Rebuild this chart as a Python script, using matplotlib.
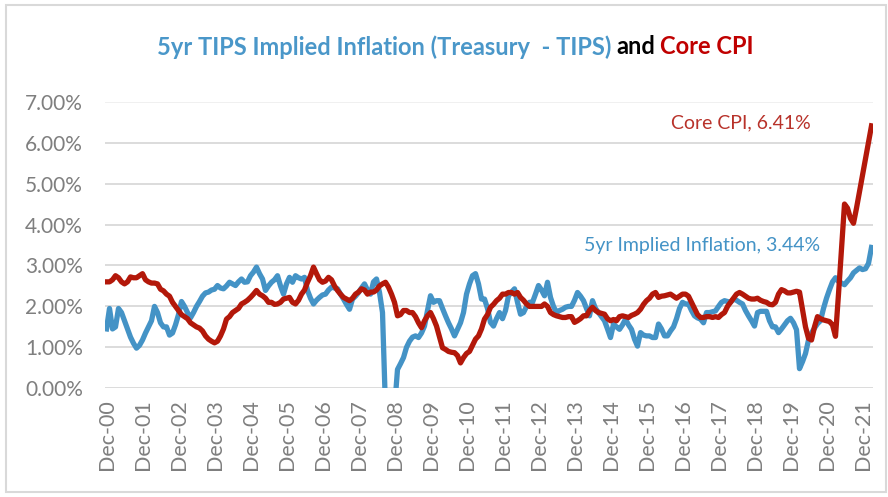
import numpy as np
import matplotlib.pyplot as plt
from matplotlib.patches import Rectangle

plt.rcParams['font.family'] = ['Lato', 'DejaVu Sans']

# monthly values in %, Dec-2000 .. Mar-2022
tips_implied = (
    [1.45]
    + [1.95, 1.45, 1.5, 1.95, 1.85, 1.65, 1.45, 1.25, 1.1, 0.98, 1.05, 1.18]      # 2001
    + [1.35, 1.5, 1.65, 2.0, 1.85, 1.6, 1.5, 1.5, 1.3, 1.35, 1.55, 1.8]           # 2002
    + [2.12, 2.0, 1.85, 1.72, 1.85, 2.0, 2.12, 2.25, 2.33, 2.35, 2.4, 2.42]       # 2003
    + [2.51, 2.45, 2.43, 2.5, 2.59, 2.55, 2.51, 2.6, 2.67, 2.59, 2.6, 2.75]       # 2004
    + [2.84, 2.96, 2.8, 2.67, 2.39, 2.5, 2.59, 2.65, 2.75, 2.5, 2.3, 2.55]        # 2005
    + [2.71, 2.59, 2.75, 2.7, 2.67, 2.71, 2.39, 2.2, 2.06, 2.15, 2.22, 2.28]      # 2006
    + [2.3, 2.4, 2.47, 2.45, 2.43, 2.3, 2.18, 2.05, 1.93, 2.18, 2.25, 2.34]       # 2007
    + [2.45, 2.55, 2.4, 2.3, 2.6, 2.67, 2.34, 1.85, -0.5, -1.5, -2.0, -0.5]       # 2008
    + [0.46, 0.6, 0.75, 1.0, 1.15, 1.25, 1.28, 1.24, 1.35, 1.52, 1.9, 2.26]       # 2009
    + [2.1, 2.14, 2.14, 1.95, 1.77, 1.6, 1.45, 1.28, 1.44, 1.6, 1.85, 2.3]        # 2010
    + [2.55, 2.75, 2.8, 2.55, 2.18, 2.18, 1.95, 1.61, 1.52, 1.7, 1.85, 1.7]       # 2011
    + [1.9, 2.26, 2.35, 2.43, 2.1, 1.81, 1.85, 2.0, 2.1, 2.1, 2.3, 2.51]          # 2012
    + [2.4, 2.26, 2.59, 2.22, 2.0, 1.85, 1.9, 1.93, 1.98, 2.0, 2.0, 2.15]         # 2013
    + [2.34, 2.25, 2.14, 1.95, 1.77, 2.14, 1.95, 1.85, 1.75, 1.65, 1.45, 1.24]    # 2014
    + [1.57, 1.5, 1.44, 1.55, 1.69, 1.55, 1.44, 1.2, 1.03, 1.36, 1.3, 1.28]       # 2015
    + [1.28, 1.24, 1.24, 1.57, 1.45, 1.28, 1.28, 1.4, 1.5, 1.7, 1.95, 2.1]        # 2016
    + [2.06, 2.06, 1.9, 1.77, 1.72, 1.69, 1.6, 1.85, 1.85, 1.87, 1.89, 2.0]       # 2017
    + [2.1, 2.14, 2.12, 2.1, 2.18, 2.15, 2.1, 2.06, 1.9, 1.77, 1.65, 1.52]        # 2018
    + [1.85, 1.88, 1.88, 1.88, 1.65, 1.5, 1.5, 1.36, 1.45, 1.55, 1.65, 1.71]      # 2019
    + [1.6, 1.43, 0.48, 0.65, 0.85, 1.18, 1.35, 1.47, 1.58, 1.65, 1.95, 2.2]      # 2020
    + [2.41, 2.6, 2.7, 2.61, 2.57, 2.53, 2.62, 2.7, 2.82, 2.88, 2.94, 2.9]        # 2021
    + [2.92, 3.05, 3.44]                                                          # 2022
)

core_cpi = (
    [2.6]
    + [2.6, 2.65, 2.75, 2.7, 2.6, 2.55, 2.6, 2.72, 2.7, 2.7, 2.75, 2.8]           # 2001
    + [2.65, 2.6, 2.57, 2.57, 2.55, 2.42, 2.38, 2.3, 2.25, 2.1, 2.0, 1.9]         # 2002
    + [1.8, 1.75, 1.7, 1.6, 1.55, 1.5, 1.47, 1.4, 1.28, 1.2, 1.15, 1.11]          # 2003
    + [1.15, 1.28, 1.45, 1.69, 1.75, 1.85, 1.9, 1.95, 2.06, 2.1, 2.15, 2.22]      # 2004
    + [2.3, 2.39, 2.3, 2.26, 2.2, 2.1, 2.1, 2.05, 2.06, 2.1, 2.18, 2.2]           # 2005
    + [2.22, 2.1, 2.06, 2.15, 2.3, 2.4, 2.59, 2.75, 2.96, 2.8, 2.65, 2.59]        # 2006
    + [2.62, 2.71, 2.65, 2.5, 2.39, 2.3, 2.22, 2.18, 2.14, 2.2, 2.3, 2.35]        # 2007
    + [2.43, 2.4, 2.3, 2.35, 2.35, 2.4, 2.5, 2.55, 2.59, 2.47, 2.3, 2.1]          # 2008
    + [1.77, 1.8, 1.9, 1.9, 1.85, 1.85, 1.75, 1.6, 1.48, 1.65, 1.77, 1.85]        # 2009
    + [1.7, 1.52, 1.25, 0.99, 0.95, 0.9, 0.88, 0.87, 0.8, 0.62, 0.75, 0.85]       # 2010
    + [0.9, 1.05, 1.2, 1.28, 1.45, 1.69, 1.8, 1.98, 2.05, 2.14, 2.2, 2.3]         # 2011
    + [2.3, 2.34, 2.34, 2.3, 2.34, 2.22, 2.15, 2.06, 2.0, 2.0, 2.0, 2.0]          # 2012
    + [2.0, 2.06, 2.0, 1.85, 1.8, 1.77, 1.75, 1.73, 1.73, 1.75, 1.75, 1.61]       # 2013
    + [1.65, 1.7, 1.77, 1.77, 1.9, 1.98, 1.9, 1.85, 1.83, 1.81, 1.7, 1.65]        # 2014
    + [1.68, 1.65, 1.75, 1.77, 1.75, 1.73, 1.78, 1.81, 1.85, 1.93, 2.05, 2.14]    # 2015
    + [2.2, 2.3, 2.34, 2.22, 2.25, 2.26, 2.28, 2.3, 2.25, 2.2, 2.25, 2.3]         # 2016
    + [2.3, 2.25, 2.1, 1.95, 1.8, 1.73, 1.73, 1.75, 1.75, 1.73, 1.75, 1.73]       # 2017
    + [1.8, 1.85, 2.0, 2.1, 2.2, 2.3, 2.34, 2.3, 2.25, 2.2, 2.18, 2.18]           # 2018
    + [2.2, 2.15, 2.12, 2.1, 2.05, 2.04, 2.1, 2.3, 2.41, 2.38, 2.33, 2.33]        # 2019
    + [2.35, 2.37, 2.35, 1.92, 1.5, 1.22, 1.18, 1.5, 1.75, 1.7, 1.67, 1.65]       # 2020
    + [1.63, 1.55, 1.27, 2.3, 3.4, 4.5, 4.4, 4.15, 4.03, 4.4, 4.8, 5.2]           # 2021
    + [5.6, 6.0, 6.41]                                                            # 2022
)

tick_labels = ["Dec-%02d" % y for y in range(0, 22)]
y_ticks = [0, 1, 2, 3, 4, 5, 6, 7]

C_BLUE = "#4493C6"
C_RED = "#B3180A"
C_GRAY = "#7F7F7F"

x = np.arange(len(core_cpi))

fig = plt.figure(figsize=(8.88, 4.97), dpi=100)
fig.patches.append(Rectangle((6 / 888, 5 / 497), 880 / 888, 487 / 497,
                             transform=fig.transFigure, fill=False,
                             edgecolor="#D9D9D9", lw=1.5))

ax = fig.add_axes([105 / 888, 108.7 / 497, 768 / 888, 286.6 / 497])
for v in y_ticks:
    ax.axhline(v, color="#D9D9D9" if v < 7 else "#EFEFEF", lw=1.3, zorder=0)

ax.plot(x, tips_implied, color=C_BLUE, lw=3.8, solid_joinstyle="round", zorder=2)
ax.plot(x, core_cpi, color=C_RED, lw=3.8, solid_joinstyle="round", zorder=3)

ax.set_xlim(-0.5, len(core_cpi) - 0.5)
ax.set_ylim(0, 7)
ax.set_yticks(y_ticks)
ax.set_yticklabels(["%.2f%%" % v for v in y_ticks])
ax.set_xticks(np.arange(0, 12 * len(tick_labels), 12))
ax.set_xticklabels(tick_labels, rotation=90)
ax.tick_params(axis="y", length=0, pad=16, labelsize=15, labelcolor=C_GRAY)
ax.tick_params(axis="x", length=0, pad=8, labelsize=15.5, labelcolor=C_GRAY)
for s in ax.spines.values():
    s.set_visible(False)

ax.text(0.828, 0.926, "Core CPI, %.2f%%" % core_cpi[-1], transform=ax.transAxes,
        color="#B8322A", fontsize=14, ha="center", va="center")
ax.text(0.777, 0.50, "5yr Implied Inflation, %.2f%%" % tips_implied[-1],
        transform=ax.transAxes, color=C_BLUE, fontsize=14, ha="center", va="center")

# two-colour title
parts = [("5yr TIPS Implied Inflation (Treasury  - TIPS)", "#4A97C9"),
         ("and", "black"), ("Core CPI", "#C00000")]
r = fig.canvas.get_renderer()
texts = [fig.text(0, 450 / 497, s, color=c, fontsize=17, fontweight="bold",
                  va="center", ha="left") for s, c in parts]
gap = 5 / 888
widths = [t.get_window_extent(r).width / 888 for t in texts]
x0 = 455 / 888 - (sum(widths) + gap * (len(widths) - 1)) / 2
for t, w in zip(texts, widths):
    t.set_x(x0)
    x0 += w + gap

fig.savefig("out.png", dpi=100)
